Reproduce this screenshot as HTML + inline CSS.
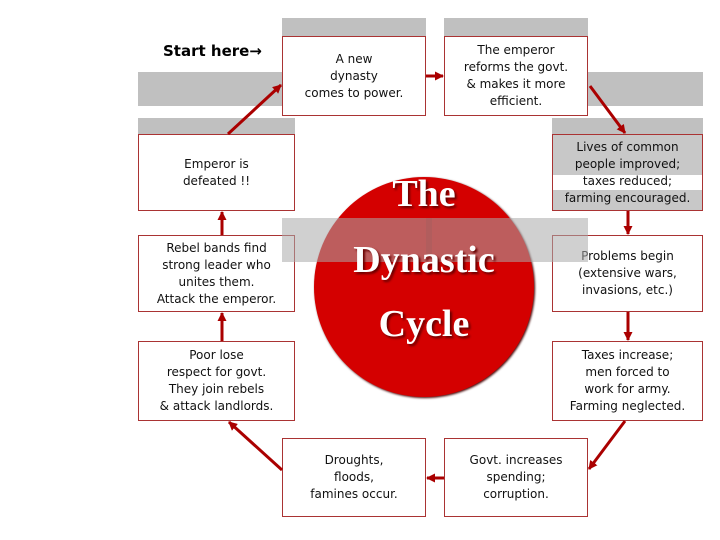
<!DOCTYPE html>
<html><head><meta charset="utf-8"><style>
body{margin:0;width:720px;height:540px;background:#fff;position:relative;overflow:hidden;font-family:"DejaVu Sans","Liberation Sans",sans-serif;}
.g{position:absolute;background:#c0c0c0;}
.b{position:absolute;box-sizing:border-box;border:1px solid #a33;background:#fff;display:flex;align-items:center;justify-content:center;text-align:center;font-size:12px;line-height:17px;color:#111;}
.t{position:absolute;left:0;width:848px;text-align:center;font-family:"Liberation Serif",serif;font-weight:bold;color:#fff;font-size:38px;text-shadow:2px 2px 2px #600;}
</style></head><body>
<div class="g" style="left:282px;top:18px;width:144px;height:20px"></div>
<div class="g" style="left:444px;top:18px;width:144px;height:20px"></div>
<div class="g" style="left:138px;top:72px;width:157px;height:34px"></div>
<div class="g" style="left:552px;top:72px;width:151px;height:34px"></div>
<div class="g" style="left:138px;top:118px;width:157px;height:17px"></div>
<div class="g" style="left:552px;top:118px;width:151px;height:17px"></div>
<div style="position:absolute;left:163px;top:42px;font-size:15px;font-weight:bold">Start here→</div>
<div class="b" style="left:282px;top:36px;width:144px;height:80px">A new<br>dynasty<br>comes to power.</div>
<div class="b" style="left:444px;top:36px;width:144px;height:80px">The emperor<br>reforms the govt.<br>&amp; makes it more<br>efficient.</div>
<div class="b" style="left:138px;top:134px;width:157px;height:77px">Emperor is<br>defeated !!</div>
<div class="b" style="left:552px;top:134px;width:151px;height:77px;background:linear-gradient(#c8c8c8 0,#c8c8c8 40px,#fff 40px,#fff 55px,#c8c8c8 55px)">Lives of common<br>people improved;<br>taxes reduced;<br>farming encouraged.</div>
<div class="b" style="left:138px;top:235px;width:157px;height:77px">Rebel bands find<br>strong leader who<br>unites them.<br>Attack the emperor.</div>
<div class="b" style="left:552px;top:235px;width:151px;height:77px">Problems begin<br>(extensive wars,<br>invasions, etc.)</div>
<div class="b" style="left:138px;top:341px;width:157px;height:80px">Poor lose<br>respect for govt.<br>They join rebels<br>&amp; attack landlords.</div>
<div class="b" style="left:552px;top:341px;width:151px;height:80px">Taxes increase;<br>men forced to<br>work for army.<br>Farming neglected.</div>
<div class="b" style="left:282px;top:438px;width:144px;height:79px">Droughts,<br>floods,<br>famines occur.</div>
<div class="b" style="left:444px;top:438px;width:144px;height:79px">Govt. increases<br>spending;<br>corruption.</div>
<div style="position:absolute;left:314px;top:177px;width:220px;height:220px;border-radius:50%;background:#d40000;box-shadow:1px 1px 2px #400"></div>
<div style="position:absolute;left:426px;top:218px;width:6px;height:36px;background:#b00"></div>
<div style="position:absolute;left:282px;top:218px;width:306px;height:44px;background:rgba(170,170,170,0.55)"></div>
<div class="t" style="top:172px">The</div>
<div class="t" style="top:238px">Dynastic</div>
<div class="t" style="top:302px">Cycle</div>
<svg width="720" height="540" style="position:absolute;left:0;top:0">
<defs><marker id="a" markerUnits="userSpaceOnUse" markerWidth="9" markerHeight="9" refX="8" refY="4.5" orient="auto"><path d="M0,0L9,4.5L0,9z" fill="#a00"/></marker></defs>
<g stroke="#a00" stroke-width="3" fill="none" marker-end="url(#a)">
<line x1="228" y1="134" x2="281" y2="85"/>
<line x1="426" y1="76" x2="443" y2="76"/>
<line x1="590" y1="86" x2="625" y2="133"/>
<line x1="628" y1="211" x2="628" y2="234"/>
<line x1="628" y1="312" x2="628" y2="340"/>
<line x1="625" y1="421" x2="589" y2="469"/>
<line x1="444" y1="478" x2="427" y2="478"/>
<line x1="282" y1="470" x2="229" y2="422"/>
<line x1="222" y1="341" x2="222" y2="313"/>
<line x1="222" y1="235" x2="222" y2="212"/>
</g></svg>
</body></html>
